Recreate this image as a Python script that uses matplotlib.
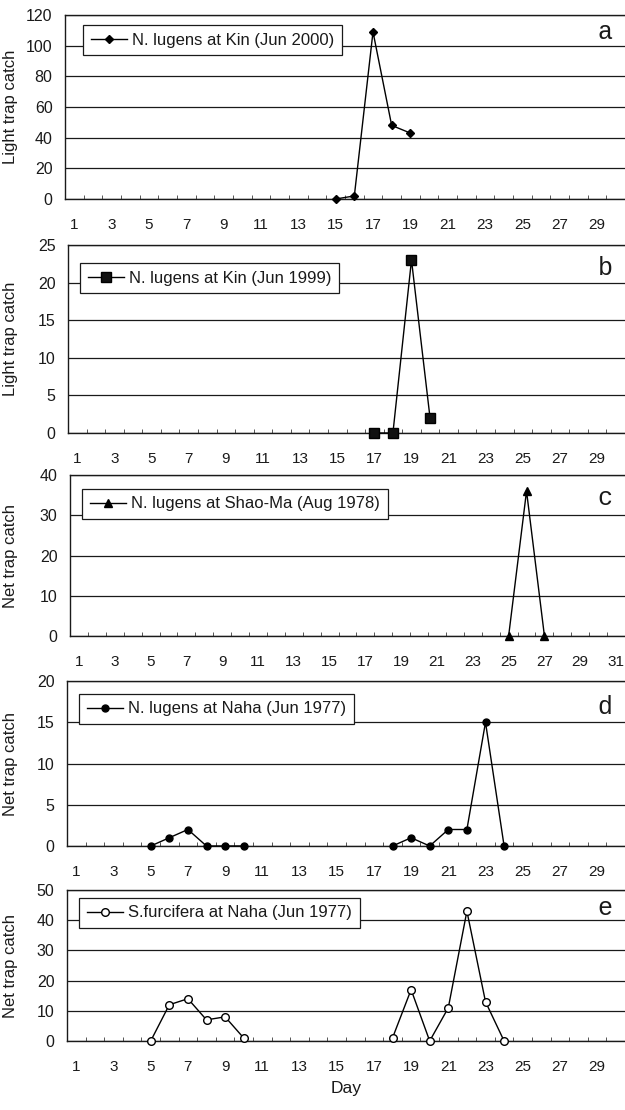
import numpy as np
import matplotlib
matplotlib.use("Agg")
import matplotlib.pyplot as plt
from matplotlib.ticker import MultipleLocator, FixedLocator

plt.rcParams['font.family'] = ['Liberation Sans', 'DejaVu Sans']

# ---- data ----
days_a = [15, 16, 17, 18, 19]
vals_a = [0, 2, 109, 48, 43]

days_b = [17, 18, 19, 20]
vals_b = [0, 0, 23, 2]

days_c = [25, 26, 27]
vals_c = [0, 36, 0]

days_d1 = [5, 6, 7, 8, 9, 10]
vals_d1 = [0, 1, 2, 0, 0, 0]
days_d2 = [18, 19, 20, 21, 22, 23, 24]
vals_d2 = [0, 1, 0, 2, 2, 15, 0]

days_e1 = [5, 6, 7, 8, 9, 10]
vals_e1 = [0, 12, 14, 7, 8, 1]
days_e2 = [18, 19, 20, 21, 22, 23, 24]
vals_e2 = [1, 17, 0, 11, 43, 13, 0]

labels = ["N. lugens at Kin (Jun 2000)",
          "N. lugens at Kin (Jun 1999)",
          "N. lugens at Shao-Ma (Aug 1978)",
          "N. lugens at Naha (Jun 1977)",
          "S.furcifera at Naha (Jun 1977)"]
ylabels = ["Light trap catch", "Light trap catch", "Net trap catch",
           "Net trap catch", "Net trap catch"]
letters = ["a", "b", "c", "d", "e"]
ymax = [120, 25, 40, 20, 50]
ystep = [20, 5, 10, 5, 10]
ndays = [30, 30, 31, 30, 30]

W, H = 625, 1110
fig = plt.figure(figsize=(W / 100, H / 100), dpi=100)

# panel geometry in pixels: left, top, bottom
geom = [(65, 15, 199), (68, 245, 433), (70, 475, 636), (67, 681, 846), (67, 890, 1041)]
leg_xy = [(83, 25), (80, 263), (82, 489), (79, 694), (79, 898)]
letter_y = [32, 268, 498, 707, 908]

series = [
    [(days_a, vals_a)],
    [(days_b, vals_b)],
    [(days_c, vals_c)],
    [(days_d1, vals_d1), (days_d2, vals_d2)],
    [(days_e1, vals_e1), (days_e2, vals_e2)],
]
styles = [
    dict(marker='D', markersize=4, mfc='black', mec='black'),
    dict(marker='s', markersize=7.5, mfc='#111111', mec='black'),
    dict(marker='^', markersize=5.5, mfc='black', mec='black'),
    dict(marker='o', markersize=5, mfc='black', mec='black'),
    dict(marker='o', markersize=5.5, mfc='white', mec='black', mew=1.0),
]

ink = '#1a1a1a'
for i in range(5):
    l, t, b = geom[i]
    ax = fig.add_axes([l / W, 1 - b / H, (W - l) / W, (b - t) / H])
    n = ndays[i]
    ax.set_xlim(0.5, n + 0.5)
    ax.set_ylim(0, ymax[i])
    ax.yaxis.set_major_locator(MultipleLocator(ystep[i]))
    ax.grid(axis='y', color=ink, linewidth=0.9)
    ax.set_axisbelow(True)
    for s in ['left', 'bottom', 'top']:
        ax.spines[s].set_color(ink)
        ax.spines[s].set_linewidth(1.0)
    ax.spines['right'].set_visible(False)
    ax.xaxis.set_major_locator(FixedLocator(list(range(1, n + 1, 2))))
    ax.xaxis.set_minor_locator(FixedLocator([k + 0.5 for k in range(n)]))
    ax.tick_params(axis='x', which='major', length=0, pad=14, labelsize=11, labelcolor=ink)
    ax.tick_params(axis='x', which='minor', length=3, direction='in', color='#555555', width=0.7)
    ax.tick_params(axis='y', length=0, pad=9, labelsize=11.5, labelcolor=ink)
    ax.set_ylabel(ylabels[i], fontsize=12, color=ink, labelpad=5)
    ax.yaxis.set_label_coords(-(l - 18) / (W - l), 0.5)

    first = True
    for d, v in series[i]:
        ax.plot(d, v, color='black', linewidth=1.0, clip_on=False, zorder=3,
                label=labels[i] if first else None, **styles[i])
        first = False
    lx, ly = leg_xy[i]
    leg = ax.legend(loc='upper left', bbox_to_anchor=(lx / W, 1 - ly / H),
                    bbox_transform=fig.transFigure, borderaxespad=0,
                    fancybox=False, framealpha=1, edgecolor=ink, fontsize=12,
                    handlelength=2.2, handletextpad=0.3, borderpad=0.45,
                    numpoints=1)
    leg.get_frame().set_linewidth(0.9)
    for txt in leg.get_texts():
        txt.set_color(ink)

    fig.text(605 / W, 1 - letter_y[i] / H, letters[i], ha='center', va='center',
             family=['Liberation Mono', 'DejaVu Sans Mono'], fontsize=18, color=ink)

fig.text(346 / W, 1 - 1088 / H, "Day", ha='center', va='center', fontsize=12.5, color=ink)

fig.savefig("out.png", dpi=100, facecolor='white')
